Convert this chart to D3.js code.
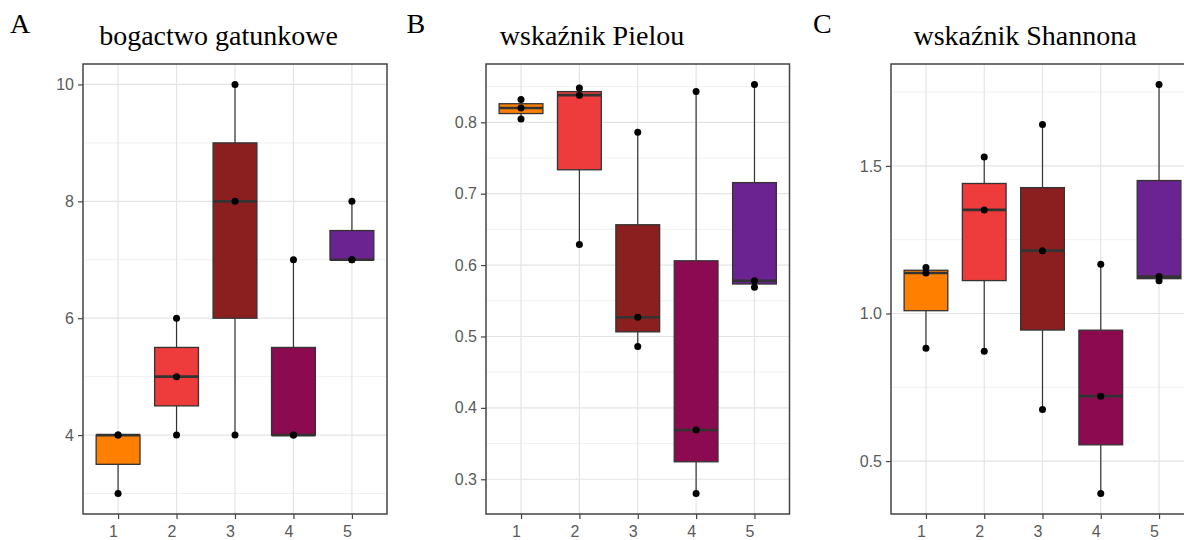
<!DOCTYPE html>
<html>
<head>
<meta charset="utf-8">
<script src="https://cdn.jsdelivr.net/npm/d3@7"></script>
<style>
  html, body { margin: 0; padding: 0; background: #fff; overflow: hidden; }
  svg { display: block; }
</style>
</head>
<body>
<svg id="chart" width="1184" height="540"></svg>
<script>
// ---- data ----
const groups = ["1", "2", "3", "4", "5"];
const groupColors = ["#FF8000", "#EE3B3B", "#8B1F1F", "#8B0A50", "#6A2390"];

const richness = [
  [3, 4, 4],
  [4, 5, 6],
  [4, 8, 10],
  [4, 4, 7],
  [7, 7, 8]
];
const pielou = [
  [0.8045, 0.820, 0.832],
  [0.629, 0.838, 0.848],
  [0.486, 0.527, 0.786],
  [0.280, 0.369, 0.843],
  [0.569, 0.578, 0.853]
];
const shannon = [
  [0.882, 1.137, 1.156],
  [0.872, 1.351, 1.530],
  [0.675, 1.213, 1.640],
  [0.390, 0.720, 1.167],
  [1.111, 1.125, 1.776]
];

const richnessTicks = [4, 6, 8, 10];
const richnessMinor = [3, 5, 7, 9];
const pielouTicks = [0.3, 0.4, 0.5, 0.6, 0.7, 0.8];
const pielouMinor = [0.25, 0.35, 0.45, 0.55, 0.65, 0.75, 0.85];
const shannonTicks = [0.5, 1.0, 1.5];
const shannonMinor = [0.25, 0.75, 1.25, 1.75];

const panelLetters = ["A", "B", "C"];
const panelTitles = ["bogactwo gatunkowe", "wskaźnik Pielou", "wskaźnik Shannona"];

// ---- layout ----
const svg = d3.select("#chart");
const panels = [
  { data: richness, ticks: richnessTicks, minor: richnessMinor, fmt: d3.format("d"),
    x0: 83, x1: 387, letterX: 10, titleX: 218.5 },
  { data: pielou, ticks: pielouTicks, minor: pielouMinor, fmt: d3.format(".1f"),
    x0: 486, x1: 789.5, letterX: 406.5, titleX: 592 },
  { data: shannon, ticks: shannonTicks, minor: shannonMinor, fmt: d3.format(".1f"),
    x0: 891, x1: 1194, letterX: 813, titleX: 1025 }
];
const plotTop = 64, plotBottom = 514;

function boxStats(vals) {
  const s = vals.slice().sort(d3.ascending);
  const q1 = d3.quantile(s, 0.25), med = d3.quantile(s, 0.5), q3 = d3.quantile(s, 0.75);
  const iqr = q3 - q1;
  const lo = d3.min(s.filter(v => v >= q1 - 1.5 * iqr));
  const hi = d3.max(s.filter(v => v <= q3 + 1.5 * iqr));
  return { q1, med, q3, lo, hi, vals: s };
}

panels.forEach((p, pi) => {
  const g = svg.append("g");
  const all = p.data.flat();
  const [mn, mx] = d3.extent(all);
  const pad = (mx - mn) * 0.05;
  const y = d3.scaleLinear().domain([mn - pad, mx + pad]).range([plotBottom, plotTop]);
  // ggplot discrete expansion 0.6 units each side
  const step = (p.x1 - p.x0) / (groups.length - 1 + 1.2);
  const xc = d3.scalePoint().domain(groups).range([p.x0 + 0.6 * step, p.x1 - 0.6 * step]);
  const bw = 0.75 * step;

  g.append("rect").attr("x", p.x0).attr("y", plotTop).attr("width", p.x1 - p.x0).attr("height", plotBottom - plotTop)
    .attr("fill", "#fff");

  // minor grid
  g.selectAll(".minor").data(p.minor.filter(v => y(v) > plotTop && y(v) < plotBottom)).join("line")
    .attr("x1", p.x0).attr("x2", p.x1).attr("y1", d => y(d)).attr("y2", d => y(d))
    .attr("stroke", "#f0f0f0").attr("stroke-width", 1);
  // major grid
  g.selectAll(".majorY").data(p.ticks).join("line")
    .attr("x1", p.x0).attr("x2", p.x1).attr("y1", d => y(d)).attr("y2", d => y(d))
    .attr("stroke", "#e4e4e4").attr("stroke-width", 1.2);
  g.selectAll(".majorX").data(groups).join("line")
    .attr("x1", d => xc(d)).attr("x2", d => xc(d)).attr("y1", plotTop).attr("y2", plotBottom)
    .attr("stroke", "#e4e4e4").attr("stroke-width", 1.2);

  // boxes
  p.data.forEach((vals, i) => {
    const st = boxStats(vals);
    const cx = xc(groups[i]);
    const bg = g.append("g");
    bg.append("line").attr("x1", cx).attr("x2", cx).attr("y1", y(st.hi)).attr("y2", y(st.q3))
      .attr("stroke", "#333").attr("stroke-width", 1.2);
    bg.append("line").attr("x1", cx).attr("x2", cx).attr("y1", y(st.q1)).attr("y2", y(st.lo))
      .attr("stroke", "#333").attr("stroke-width", 1.2);
    bg.append("rect").attr("x", cx - bw / 2).attr("width", bw)
      .attr("y", y(st.q3)).attr("height", Math.max(0.5, y(st.q1) - y(st.q3)))
      .attr("fill", groupColors[i]).attr("stroke", "#333").attr("stroke-width", 1.3);
    bg.append("line").attr("x1", cx - bw / 2).attr("x2", cx + bw / 2).attr("y1", y(st.med)).attr("y2", y(st.med))
      .attr("stroke", "#333").attr("stroke-width", 2.6);
    bg.selectAll("circle").data(st.vals).join("circle")
      .attr("cx", cx).attr("cy", d => y(d)).attr("r", 3.5).attr("fill", "#000");
  });

  // border
  g.append("rect").attr("x", p.x0).attr("y", plotTop).attr("width", p.x1 - p.x0).attr("height", plotBottom - plotTop)
    .attr("fill", "none").attr("stroke", "#444").attr("stroke-width", 1.5);

  // axes
  const yAxis = d3.axisLeft(y).tickValues(p.ticks).tickFormat(p.fmt).tickSize(5).tickPadding(4);
  const ya = g.append("g").attr("transform", `translate(${p.x0},0)`).call(yAxis);
  const xAxis = d3.axisBottom(xc).tickSize(5).tickPadding(7);
  const xa = g.append("g").attr("transform", `translate(0,${plotBottom})`).call(xAxis);
  xa.selectAll(".tick text").attr("dx", -5);
  [ya, xa].forEach(a => {
    a.select(".domain").remove();
    a.selectAll(".tick line").attr("stroke", "#444").attr("stroke-width", 1.2);
    a.selectAll(".tick text").attr("fill", "#5a5a5a").style("font-family", "'Liberation Sans', Arial, sans-serif")
      .style("font-size", "16px");
  });

  svg.append("text").attr("x", p.letterX).attr("y", 33).text(panelLetters[pi])
    .style("font-family", "'Liberation Serif', 'Times New Roman', serif").style("font-size", "28px").attr("fill", "#000");
  svg.append("text").attr("x", p.titleX).attr("y", 45).attr("text-anchor", "middle").text(panelTitles[pi])
    .style("font-family", "'Liberation Serif', 'Times New Roman', serif").style("font-size", "28px").attr("fill", "#000");
});
</script>
</body>
</html>
